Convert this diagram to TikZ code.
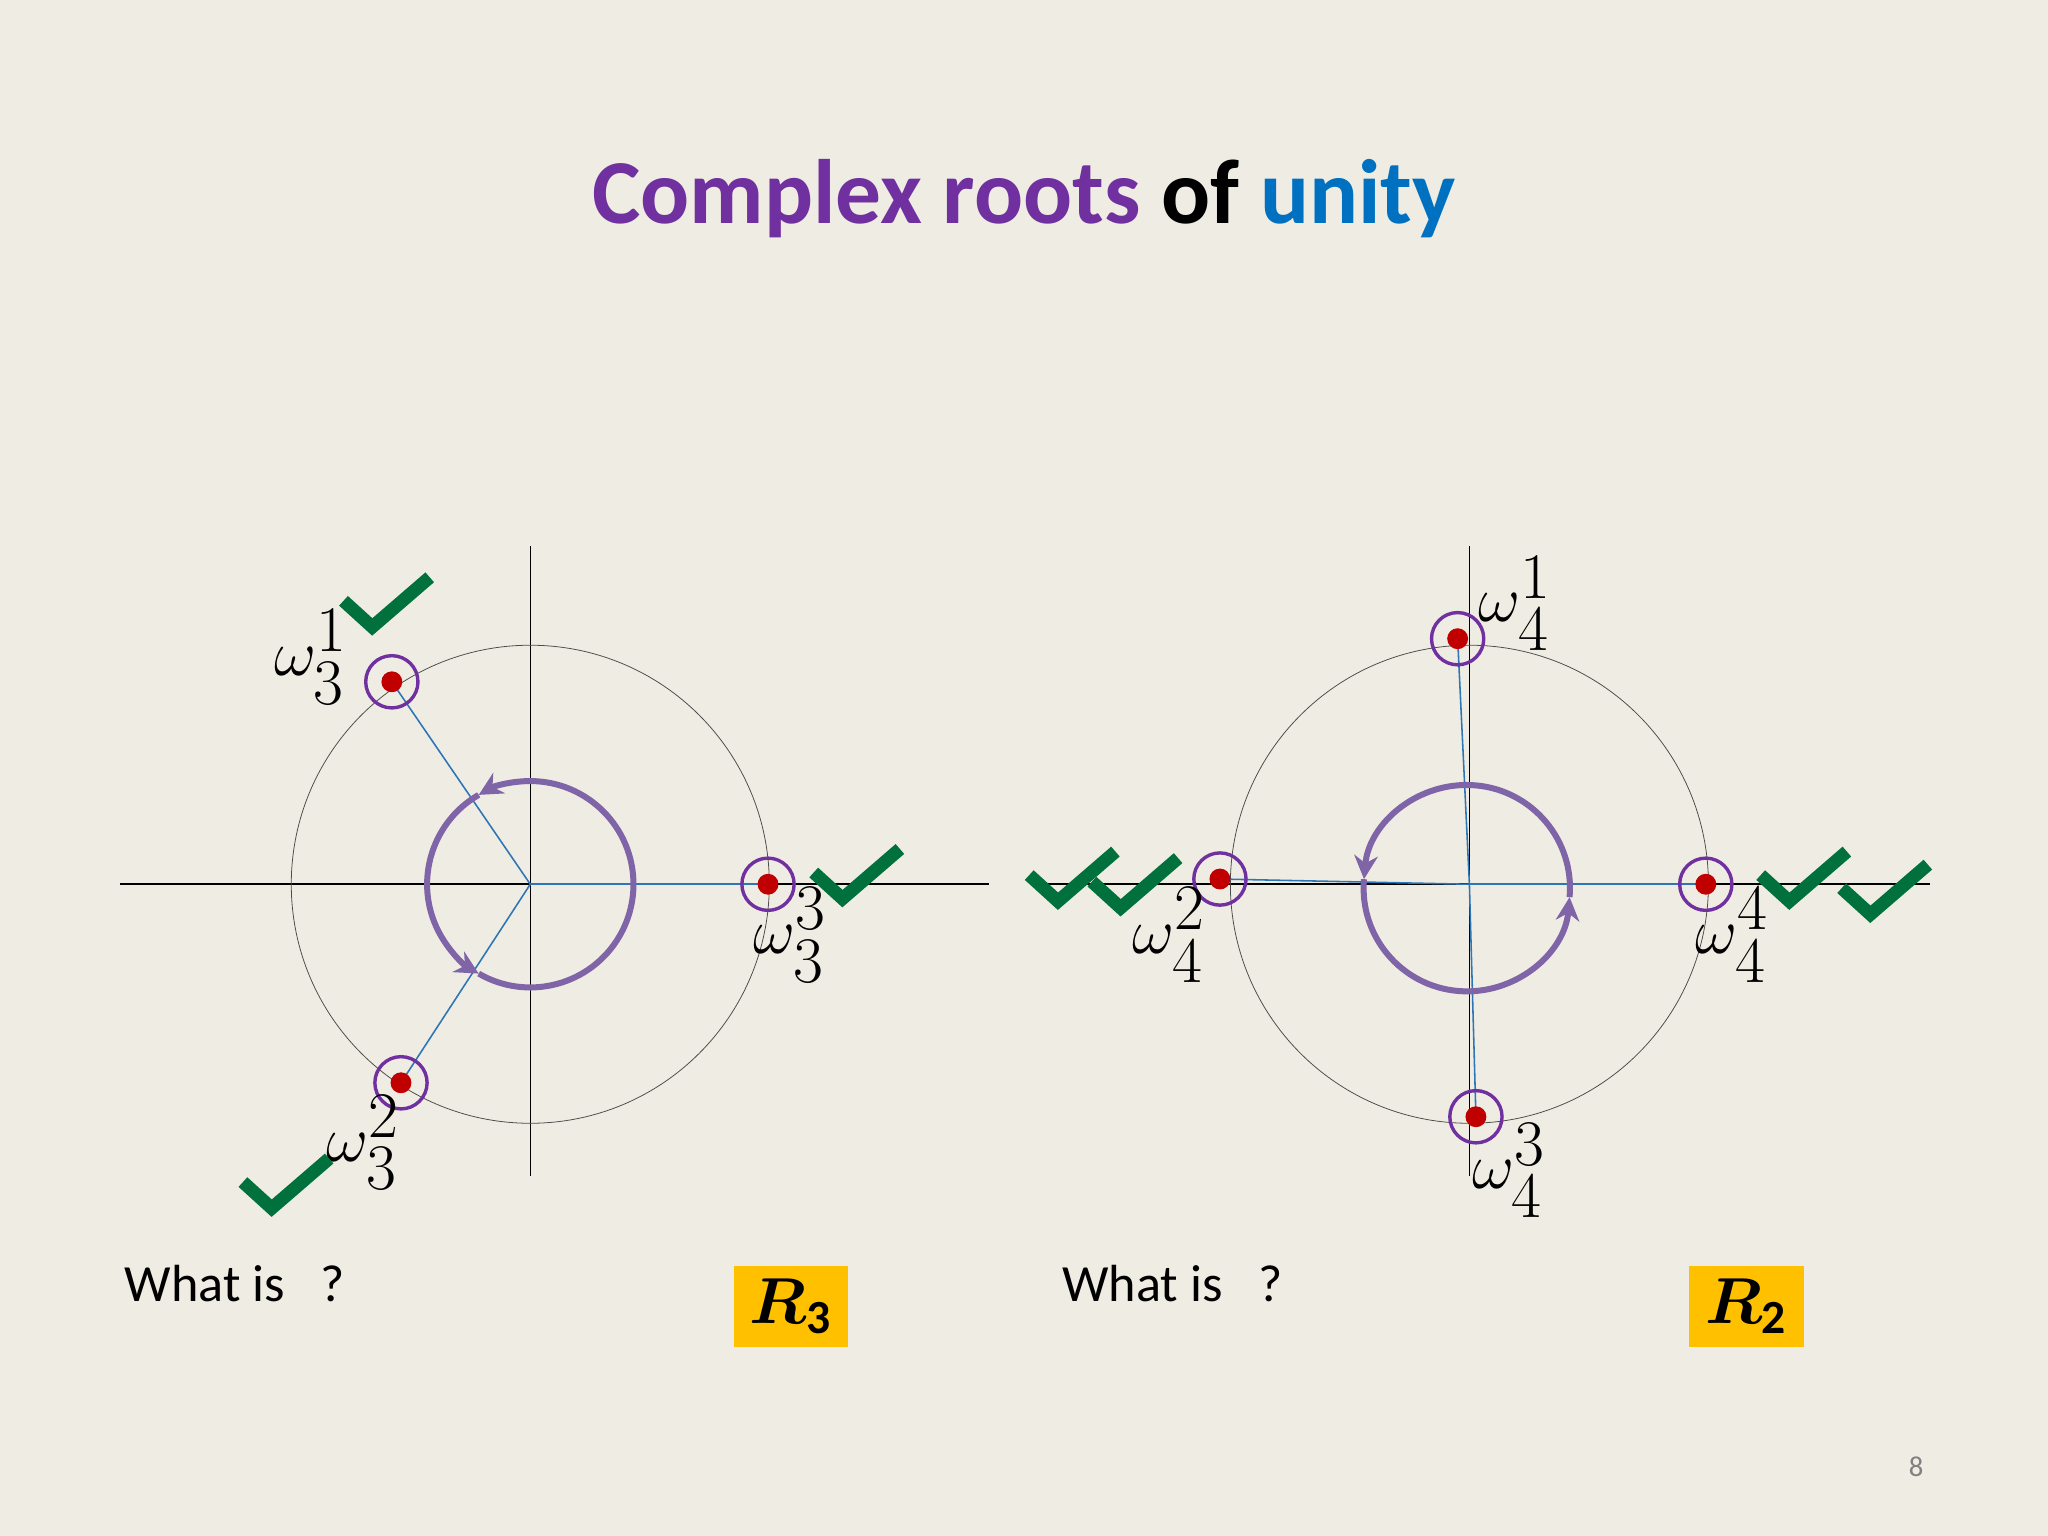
\documentclass[tikz,border=0pt]{standalone}
\usepackage{amsmath,bm}
\usepackage{fontspec}
\setmainfont{Carlito}
\usetikzlibrary{arrows.meta,calc}
\definecolor{bg}{HTML}{EFEDE3}
\definecolor{ttlpurple}{HTML}{7030A0}
\definecolor{ttlblue}{HTML}{0070C0}
\definecolor{ringp}{HTML}{7030A0}
\definecolor{arcp}{HTML}{7F64A8}
\definecolor{lineblue}{HTML}{2E75B6}
\definecolor{dotred}{HTML}{C00000}
\definecolor{chk}{HTML}{00703C}
\definecolor{ybox}{HTML}{FFC000}
\tikzset{
  ax/.style={black, line width=0.6pt},
  unitc/.style={black!70, line width=0.3pt},
  spoke/.style={lineblue, line width=0.6pt},
  ring/.style={ringp, line width=1.3pt},
  rot/.style={arcp, line width=2.3pt},
  rotarr/.style={arcp, line width=2.3pt, -{Stealth[length=9pt,width=9pt]}},
  chkmark/.style={chk, line width=5pt},
  wlab/.style={font=\fontsize{34}{34}\selectfont, inner sep=0pt},
}
\newcommand{\rootat}[2]{\fill[dotred] (#1) circle (4pt); \draw[ring] (#1) circle (10pt); \coordinate (#2) at (#1);}
\newcommand{\chkat}[1]{\draw[chkmark] ($(#1)+(-22,-20)$) -- (#1) -- ($(#1)+(44,-38)$);}
\begin{document}
\begin{tikzpicture}[x=0.5pt,y=-0.5pt]
\fill[bg] (0,0) rectangle (1568,1176);
\useasboundingbox (0,0) rectangle (1568,1176);
\node[font=\fontsize{35}{35}\selectfont\bfseries] (title) at (784,152) {\textcolor{ttlpurple}{Complex roots} of \textcolor{ttlblue}{unity}};
% left diagram
\coordinate (c1) at (406,677);
\draw[ax] (92,677) -- (757,677);
\draw[ax] (406,418) -- (406,900);
\draw[unitc] (c1) circle (91.5pt);
\draw[spoke] (c1) -- (588,677);
\draw[spoke] (c1) -- (300,522);
\draw[spoke] (c1) -- (307,829);
\draw[rotarr] ($(c1)+(0:39.5pt)$) arc (0:120:39.5pt);
\draw[rotarr] ($(c1)+(120:39.5pt)$) arc (120:240:39.5pt);
\draw[rot] ($(c1)+(240:39.5pt)$) arc (240:360:39.5pt);
\rootat{588,677}{r31}
\rootat{300,522}{r32}
\rootat{307,829}{r33}
\node[wlab] (l31) at (238,503) {$\omega^{1}_{3}$};
\node[wlab] (l33) at (605,716) {$\omega^{3}_{3}$};
\node[wlab] (l32) at (278,875) {$\omega^{2}_{3}$};
\chkat{285,480}
\chkat{645,688}
\chkat{208,925}
% right diagram
\coordinate (c2) at (1125,677);
\draw[ax] (790,677) -- (1478,677);
\draw[ax] (1125,418) -- (1125,900);
\draw[unitc] (c2) circle (91.5pt);
\draw[spoke] (c2) -- (1306,677);
\draw[spoke] (c2) -- (1116,489);
\draw[spoke] (c2) -- (934,673);
\draw[spoke] (c2) -- (1130,855);
\draw[rotarr] ($(1123,680)+(-5:39.5pt)$) arc (-5:175:39.5pt);
\draw[rotarr] ($(1123,680)+(175:39.5pt)$) arc (175:355:39.5pt);
\rootat{1306,677}{r44}
\rootat{1116,489}{r41}
\rootat{934,673}{r42}
\rootat{1130,855}{r43}
\node[wlab] (l41) at (1160,462) {$\omega^{1}_{4}$};
\node[wlab] (l42) at (895,716) {$\omega^{2}_{4}$};
\node[wlab] (l44) at (1326,716) {$\omega^{4}_{4}$};
\node[wlab] (l43) at (1155,896) {$\omega^{3}_{4}$};
\chkat{810,690}
\chkat{858,695}
\chkat{1370,690}
\chkat{1432,700}
% bottom
\node[anchor=west, font=\fontsize{20}{20}\selectfont, inner sep=0pt] (q1) at (95,983) {What is\ \ \ ?};
\node[anchor=west, font=\fontsize{20}{20}\selectfont, inner sep=0pt] (q2) at (813,983) {What is\ \ \ ?};
\node[fill=ybox, minimum width=43.5pt, minimum height=31pt, inner sep=0pt, font=\fontsize{26}{26}\selectfont] (b1) at (605.5,1000) {$\bm{R}_{\mathbf{3}}$};
\node[fill=ybox, minimum width=44pt, minimum height=31pt, inner sep=0pt, font=\fontsize{26}{26}\selectfont] (b2) at (1337,1000) {$\bm{R}_{\mathbf{2}}$};
\node[text=gray, font=\fontsize{11}{11}\selectfont] (pg) at (1467,1123) {8};
\end{tikzpicture}
\end{document}
